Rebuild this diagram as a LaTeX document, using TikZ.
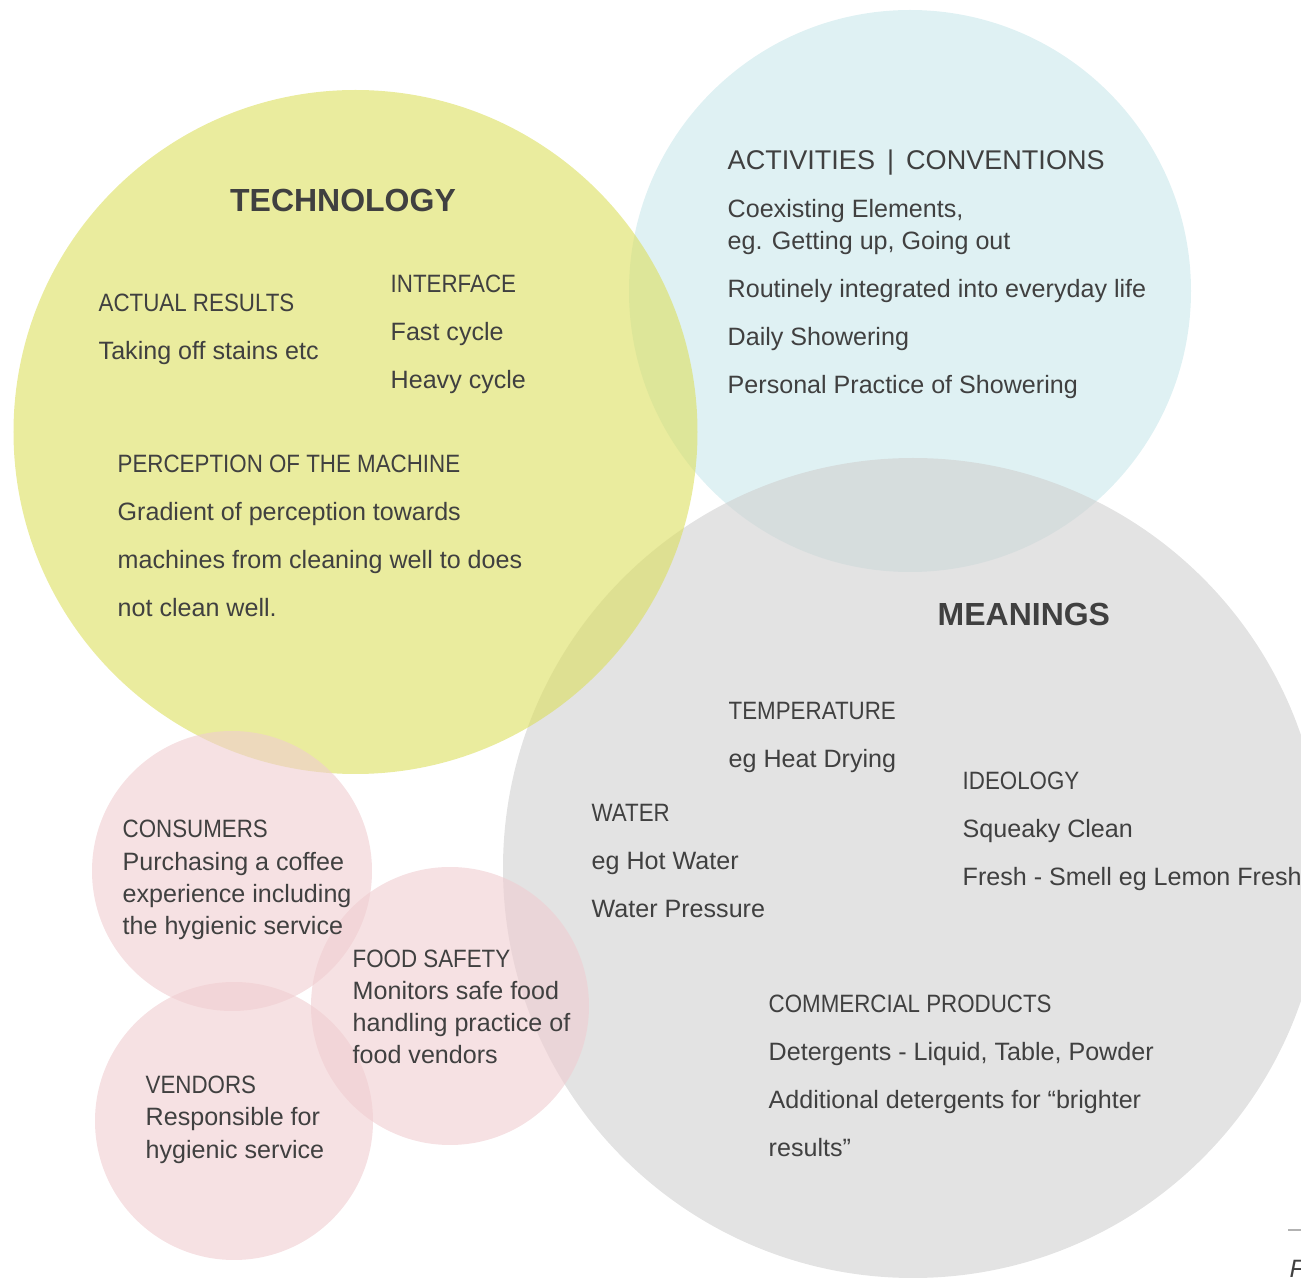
\documentclass[tikz,border=0pt]{standalone}
\usepackage{graphicx}
\usepackage{fontspec}
\setmainfont{Liberation Sans}

\definecolor{techfill}{RGB}{220,223,93}
\definecolor{actfill}{RGB}{202,232,235}
\definecolor{meanfill}{RGB}{208,208,208}
\definecolor{peoplefill}{RGB}{240,205,208}
\definecolor{ink}{RGB}{64,64,64}

% headings are set a little narrower
\newcommand{\narrowcaps}[1]{\scalebox{0.89}[1]{#1}}

\tikzset{
  blob/.style={fill opacity=0.6},
  txt/.style={anchor=base west, inner sep=0pt, text=ink, font=\fontsize{7.14}{9}\selectfont},
  head/.style={txt, font=\fontsize{7.7}{9}\selectfont},
  title/.style={anchor=base, inner sep=0pt, text=ink, font=\fontsize{9.1}{11}\selectfont\bfseries},
}

\begin{document}
\begin{tikzpicture}
    \useasboundingbox (0,0) rectangle (13.01,-12.85);
    % circles
    \fill [actfill,blob] (9.10,-2.91) circle (2.81);
    \fill [meanfill,blob] (9.13,-8.68) circle (4.10);
    \fill [techfill,blob] (3.555,-4.32) circle (3.42);
    \fill [peoplefill,blob] (2.32,-8.71) circle (1.40);
    \fill [peoplefill,blob] (4.50,-10.06) circle (1.39);
    \fill [peoplefill,blob] (2.34,-11.21) circle (1.39);

    % technology
    \node [title] (tech) at (3.43,-2.12) {TECHNOLOGY};
    \foreach \t [count=\i from 0] in {\narrowcaps{ACTUAL RESULTS}, Taking off stains etc}
        \node [txt] (res\i) at (0.98,-3.12-0.48*\i) {\t};
    \foreach \t [count=\i from 0] in {\narrowcaps{INTERFACE}, Fast cycle, Heavy cycle}
        \node [txt] (ifc\i) at (3.90,-2.93-0.48*\i) {\t};
    \foreach \t [count=\i from 0] in {\narrowcaps{PERCEPTION OF THE MACHINE}, Gradient of perception towards, machines from cleaning well to does, not clean well.}
        \node [txt] (per\i) at (1.17,-4.73-0.48*\i) {\t};

    % activities
    \node [head] (act) at (7.27,-1.70) {ACTIVITIES \,|\, CONVENTIONS};
    \node [txt] (act0) at (7.27,-2.18) {Coexisting Elements,};
    \node [txt] (act1) at (7.27,-2.50) {eg. Getting up, Going out};
    \node [txt] (act2) at (7.27,-2.98) {Routinely integrated into everyday life};
    \node [txt] (act3) at (7.27,-3.46) {Daily Showering};
    \node [txt] (act4) at (7.27,-3.94) {Personal Practice of Showering};

    % meanings
    \node [title,anchor=base west] (mean) at (9.37,-6.26) {MEANINGS};
    \foreach \t [count=\i from 0] in {\narrowcaps{TEMPERATURE}, eg Heat Drying}
        \node [txt] (tmp\i) at (7.28,-7.20-0.48*\i) {\t};
    \foreach \t [count=\i from 0] in {\narrowcaps{IDEOLOGY}, Squeaky Clean, Fresh - Smell eg Lemon Fresh}
        \node [txt] (ide\i) at (9.62,-7.90-0.48*\i) {\t};
    \foreach \t [count=\i from 0] in {\narrowcaps{WATER}, eg Hot Water, Water Pressure}
        \node [txt] (wat\i) at (5.91,-8.22-0.48*\i) {\t};
    \foreach \t [count=\i from 0] in {\narrowcaps{COMMERCIAL PRODUCTS}, {Detergents - Liquid, Table, Powder}, Additional detergents for “brighter, results”}
        \node [txt] (com\i) at (7.68,-10.13-0.48*\i) {\t};

    % people
    \foreach \t [count=\i from 0] in {\narrowcaps{CONSUMERS}, Purchasing a coffee, experience including, the hygienic service}
        \node [txt] (cons\i) at (1.22,-8.38-0.32*\i) {\t};
    \foreach \t [count=\i from 0] in {\narrowcaps{FOOD SAFETY}, Monitors safe food, handling practice of, food vendors}
        \node [txt] (food\i) at (3.52,-9.68-0.32*\i) {\t};
    \foreach \t [count=\i from 0] in {\narrowcaps{VENDORS}, Responsible for, hygienic service}
        \node [txt] (vend\i) at (1.45,-10.94-0.32*\i) {\t};

    % page edge
    \coordinate (cut) at (12.88,-12.30);
    \draw [gray!60,line width=0.5pt] (cut) -- ++(0.13,0);
    \node [txt,font=\fontsize{7.14}{9}\selectfont\itshape] (pagef) at (12.89,-12.77) {F};
\end{tikzpicture}
\end{document}
